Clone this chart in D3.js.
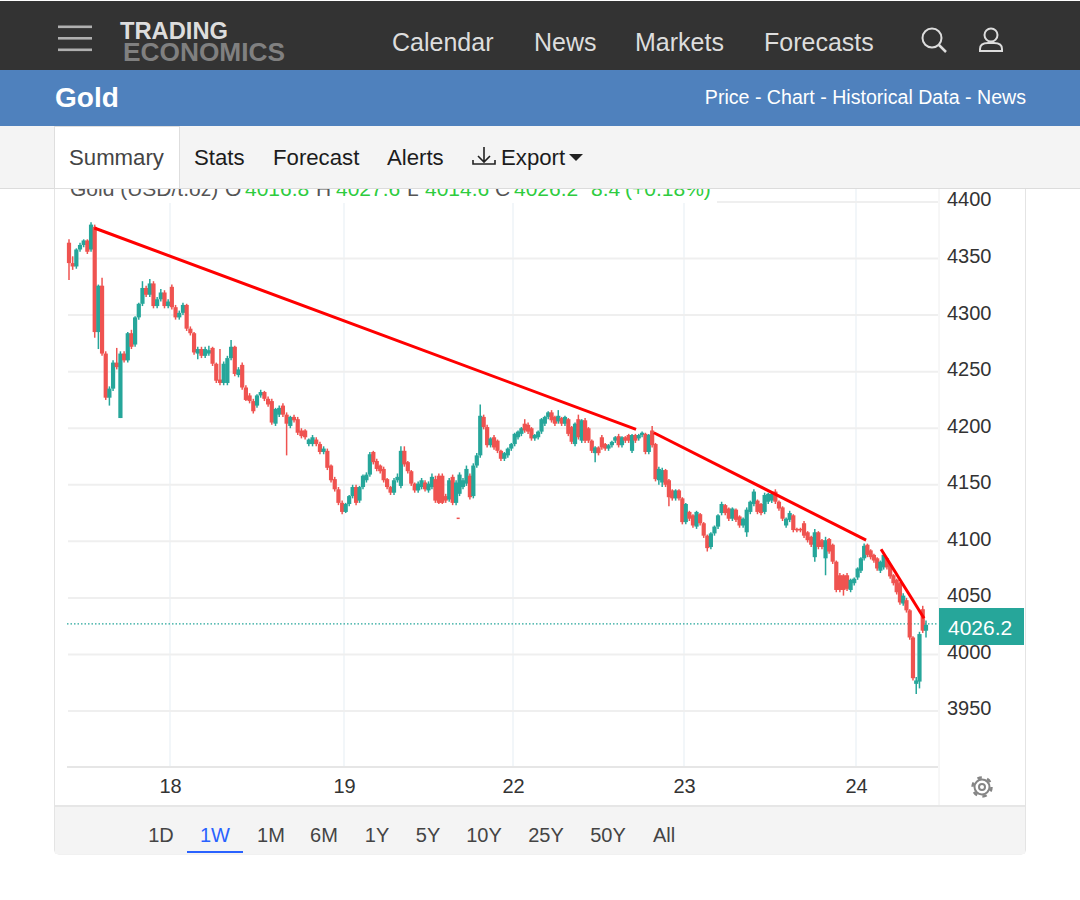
<!DOCTYPE html>
<html>
<meta charset="utf-8">
<script src="https://d3js.org/d3.v7.min.js"></script>
<style>
  html, body { margin: 0; padding: 0; background: #fff; }
  svg { display: block; }
  text { font-family: "Liberation Sans", Arial, sans-serif; }
  .grid line { stroke: #efefef; stroke-width: 2px; }
  .vgrid line { stroke: #eef3f7; stroke-width: 1.5px; }
  .axis path, .axis line { display: none; }
  .axis text { font-size: 20px; fill: #333; font-family: "Liberation Sans", Arial, sans-serif; }
  .nav { font-size: 25px; fill: #ddd; }
  .tab { font-size: 22.2px; fill: #1c1c1c; }
  .range { font-size: 20px; fill: #444; text-anchor: middle; }
</style>
<body>
<script>
var opens = [
  4364,4346,4343,4358,4362,4366,4358,4378,4285,4326,
  4266,4227,4235,4258,4209,4266,4260,4284,4274,4298,
  4310,4324,4318,4328,4308,4314,4320,4308,4325,4307,
  4298,4302,4309,4288,4284,4266,4270,4264,4266,4271,
  4257,4243,4240,4240,4262,4272,4247,4256,4236,
  4229,4224,4220,4229,4232,4226,4224,4204,4212,4220,
  4212,4202,4210,4208,4198,4198,4186,4186,4190,4186,
  4179,4180,4167,4155,4146,4134,
  4126,4133,4140,4148,4136,4148,4154,4159,4179,4171,
  4167,4164,4155,4148,4143,4154,4149,4180,4170,4162,
  4151,4145,4148,4152,4145,4148,4155,4158,4158,4140,
  4137,4157,4134,4142,4148,4151,4158,4140,4167,4176,
  4210,4201,
  4185,4192,4189,4180,4173,4176,4182,
  4186,4192,4195,4204,4203,4200,4191,4192,4197,4204,
  4210,4214,4210,4206,4209,4204,4208,4201,4186,4208,
  4189,4207,4200,4189,4178,4183,4192,4186,4182,4185,
  4189,4193,4185,4192,4194,4180,4194,4191,4194,4195,
  4179,4198,4186,4154,4152,4163,4154,4145,4138,4145,
  4138,
  4117,4126,4123,4113,4124,4116,4105,4095,4107,4113,
  4125,4132,4129,4120,4128,4122,4114,4108,4126,4133,
  4136,4133,4126,4135,4136,4144,4135,4130,4114,4119,
  4123,4111,4111,4116,4108,4104,4086,4108,4101,4085,
  4102,4097,4082,4070,4070,4070,4057,4063,
  4068,4074,4085,4097,4092,4088,4085,4074,4077,4085,
  4079,4070,4066,4063,4045,4048,4039,4015,3974,3976,
  4040,4021
];
var closes = [
  4346,4343,4358,4362,4366,4356,4380,4285,4326,4266,
  4227,4235,4258,4254,4266,4260,4284,4272,4298,4310,
  4324,4318,4328,4308,4314,4320,4308,4312,4307,4298,
  4302,4309,4288,4284,4267,4270,4264,4270,4269,4257,
  4242,4240,4257,4262,4272,4248,4252,4236,4225,
  4224,4215,4229,4232,4226,4221,4205,4217,4218,4212,
  4204,4210,4207,4196,4193,4192,4190,4192,4186,4179,
  4182,4165,4154,4146,4134,4126,
  4133,4140,4148,4134,4148,4158,4159,4177,4170,4164,
  4162,4154,4148,4143,4154,4157,4180,4168,4162,4151,
  4145,4151,4154,4146,4151,4157,4136,4134,4134,4136,
  4154,4134,4152,4159,4154,4164,4139,4167,4176,4211,
  4201,4185,
  4191,4183,4180,4173,4178,4182,4186,
  4195,4197,4200,4198,4197,4191,4194,4197,4208,4210,
  4214,4207,4204,4211,4204,4210,4195,4188,4204,4192,
  4207,4189,4189,4180,4183,4178,4183,4182,4185,4188,
  4192,4185,4192,4189,4189,4194,4189,4194,4196,4179,
  4194,4185,4155,4164,4163,4150,4139,4138,4145,4138,
  4117,
  4133,4120,4114,4126,4116,4105,4094,4107,4113,4123,
  4133,4125,4120,4129,4119,4114,4120,4128,4135,4144,
  4126,4125,4141,4142,4142,4135,4129,4120,4120,4125,
  4110,4110,4110,4105,4101,4097,4108,4095,4095,4101,
  4091,4082,4057,4057,4057,4058,4066,4067,
  4076,4085,4096,4088,4086,4083,4076,4082,4088,4077,
  4069,4063,4055,4046,4052,4039,4015,3979,3977,4018,
  4021,4026.2
];
var highs = [
  4367,4352,4359,4364,4367,4367,4382,4380,4327,4333,
  4268,4237,4260,4271,4268,4268,4285,4287,4299,4311,
  4330,4326,4332,4330,4316,4323,4322,4314,4327,4309,
  4304,4311,4310,4290,4285,4272,4272,4272,4273,4272,
  4258,4270,4259,4264,4278,4273,4254,4258,4238,
  4231,4226,4230,4234,4233,4228,4226,4218,4220,4222,
  4214,4211,4212,4210,4200,4199,4191,4194,4192,4188,
  4184,4182,4168,4157,4148,4136,
  4134,4141,4150,4150,4149,4159,4161,4179,4180,4173,
  4168,4166,4156,4149,4156,4160,4184,4184,4171,4163,
  4152,4153,4156,4154,4153,4160,4158,4160,4160,4142,
  4156,4159,4154,4161,4156,4167,4160,4169,4178,4221,
  4212,4203,
  4192,4194,4190,4181,4179,4183,4187,
  4196,4198,4201,4208,4205,4201,4195,4198,4209,4211,
  4215,4216,4211,4216,4210,4211,4209,4202,4205,4212,
  4208,4209,4201,4190,4184,4184,4194,4187,4186,4189,
  4193,4195,4193,4193,4195,4195,4195,4195,4197,4196,
  4195,4202,4187,4166,4165,4164,4155,4146,4146,4146,
  4139,
  4134,4127,4124,4127,4125,4117,4106,4108,4114,4124,
  4135,4133,4130,4130,4129,4123,4121,4130,4136,4146,
  4137,4134,4143,4143,4143,4146,4136,4131,4121,4127,
  4124,4112,4112,4118,4109,4105,4111,4109,4102,4104,
  4103,4098,4083,4072,4071,4072,4067,4068,
  4077,4086,4098,4098,4093,4089,4086,4083,4090,4086,
  4080,4071,4067,4064,4054,4050,4040,4016,3980,4020,
  4043,4030
];
var lows = [
  4331,4340,4341,4356,4360,4354,4356,4280,4270,4264,
  4225,4220,4233,4252,4209,4258,4258,4270,4272,4296,
  4308,4316,4316,4306,4306,4312,4306,4306,4305,4296,
  4296,4300,4286,4282,4265,4261,4262,4262,4264,4255,
  4240,4238,4238,4238,4260,4246,4245,4234,4224,
  4222,4213,4218,4227,4224,4219,4203,4202,4210,4210,
  4176,4200,4205,4194,4191,4190,4184,4184,4184,4177,
  4177,4163,4152,4144,4132,4124,
  4125,4131,4138,4132,4134,4146,4152,4157,4168,4162,
  4160,4152,4146,4141,4141,4152,4147,4166,4160,4149,
  4143,4143,4146,4144,4143,4146,4134,4133,4133,4134,
  4135,4132,4132,4140,4146,4149,4137,4138,4165,4174,
  4199,4183,
  4183,4181,4178,4171,4171,4174,4180,
  4184,4190,4193,4196,4195,4189,4189,4190,4195,4202,
  4208,4205,4202,4204,4202,4202,4193,4186,4184,4190,
  4187,4187,4187,4178,4170,4176,4181,4180,4180,4183,
  4187,4183,4183,4187,4187,4178,4187,4189,4192,4177,
  4177,4183,4153,4150,4148,4148,4131,4136,4136,4136,
  4115,
  4115,4118,4112,4111,4114,4103,4091,4093,4105,4111,
  4123,4123,4118,4118,4117,4112,4112,4104,4124,4131,
  4124,4123,4124,4133,4134,4133,4127,4118,4112,4117,
  4108,4108,4108,4103,4099,4095,4082,4093,4093,4070,
  4089,4080,4055,4055,4052,4056,4055,4061,
  4066,4072,4083,4086,4084,4081,4074,4072,4075,4075,
  4067,4061,4053,4044,4043,4037,4013,3977,3965,3970,
  4019,4015
];

var yTicks = [4400,4350,4300,4250,4200,4150,4100,4050,4000,3950];
var dayLabels = ['18','19','22','23','24'];
var dayIndex = [27.5,74.5,123.5,174.5,222.5];
var lastPrice = 4026.2;
var strayPrint = [{i: 107.6, price: 4121}];

// hand drawn trend lines, candle index and price at each end
var trendLines = [
  [{i: 6.9, p: 4377}, {i: 160.2, p: 4199}],
  [{i: 165.5, p: 4196}, {i: 225.6, p: 4101}],
  [{i: 230.2, p: 4093}, {i: 243.4, p: 4032}]
];

var quoteParts = ['Gold (USD/t.oz)','O','4016.8','H','4027.6','L','4014.6','C','4026.2','8.4','(+0.18%)'];
var quoteColors = ['#555','#555','#2ecc40','#555','#2ecc40','#555','#2ecc40','#555','#2ecc40','#2ecc40','#2ecc40'];
var quoteX = [70,225,245,316,336,407,425,495,514,591,625];

var navItems = ['Calendar','News','Markets','Forecasts'];
var navX = [392,534,635,764];
var tabItems = ['Stats','Forecast','Alerts','Export'];
var tabX = [194,273,387,501];
var ranges = ['1D','1W','1M','6M','1Y','5Y','10Y','25Y','50Y','All'];
var rangeX = [161,215,271,324,377,428,484,546,608,664];

var up = '#26a69a', down = '#ef5350';

var svg = d3.select('body').append('svg')
  .attr('width',1080)
  .attr('height',900);

var x = d3.scaleLinear()
  .domain([0].concat(dayIndex, [opens.length - 1]))
  .range([69,170,344,513,684,856,926]);

var y = d3.scaleLinear()
  .domain([3950,4400])
  .range([711,202]);

// panel frame
svg.append('rect').attr('x',54.5).attr('y',126).attr('width',971).attr('height',728)
  .attr('rx',4).attr('fill','#fff').attr('stroke','#e4e4e4');

svg.append('g').attr('class','vgrid').selectAll('line').data(dayIndex).enter().append('line')
  .attr('x1',function(d){return x(d);})
  .attr('x2',function(d){return x(d);})
  .attr('y1',188).attr('y2',767);

svg.append('g').attr('class','grid').selectAll('line').data(yTicks).enter().append('line')
  .attr('x1',68).attr('x2',938)
  .attr('y1',function(d){return y(d);})
  .attr('y2',function(d){return y(d);});

svg.append('line').attr('x1',67).attr('x2',938).attr('y1',767).attr('y2',767)
  .attr('stroke','#e6e6e6').attr('stroke-width',2);
svg.append('line').attr('x1',939).attr('x2',939).attr('y1',188).attr('y2',806)
  .attr('stroke','#eeeeee');
svg.append('line').attr('x1',55).attr('x2',1025).attr('y1',806).attr('y2',806)
  .attr('stroke','#e6e6e6').attr('stroke-width',2);

// last price line
svg.append('line').attr('x1',67).attr('x2',938)
  .attr('y1',y(lastPrice) - 1).attr('y2',y(lastPrice) - 1)
  .attr('stroke',up).attr('stroke-width',1.2).attr('stroke-dasharray','1.5 2');

// candles
var idx = d3.range(opens.length);
var candles = svg.append('g');
candles.selectAll('line').data(idx).enter().append('line')
  .attr('x1',function(i){return x(i);})
  .attr('x2',function(i){return x(i);})
  .attr('y1',function(i){return y(highs[i]);})
  .attr('y2',function(i){return y(lows[i]);})
  .attr('stroke',function(i){return closes[i] >= opens[i] ? up : down;})
  .attr('stroke-width',1.5);
candles.selectAll('rect').data(idx).enter().append('rect')
  .attr('x',function(i){return x(i) - 2.1;})
  .attr('width',4.2)
  .attr('y',function(i){return y(Math.max(opens[i],closes[i]));})
  .attr('height',function(i){return Math.max(1.5,Math.abs(y(opens[i]) - y(closes[i])));})
  .attr('fill',function(i){return closes[i] >= opens[i] ? up : down;});

svg.selectAll('rect.stray').data(strayPrint).enter().append('rect')
  .attr('class','stray')
  .attr('x',function(d){return x(d.i) - 1.5;})
  .attr('y',function(d){return y(d.price);})
  .attr('width',3).attr('height',1.5)
  .attr('fill',down);

var trend = d3.line().x(function(d){return x(d.i);}).y(function(d){return y(d.p);});
svg.selectAll('path.trend').data(trendLines).enter().append('path')
  .attr('class','trend')
  .attr('d',trend)
  .attr('fill','none')
  .attr('stroke','#ff0000')
  .attr('stroke-width',3);

// axes
var yAxis = d3.axisRight(y).tickValues(yTicks).tickSize(0).tickPadding(8).tickFormat(d3.format('d'));
svg.append('g').attr('class','axis').attr('transform','translate(939,-2.5)').call(yAxis);

var xAxis = d3.axisBottom(x).tickValues(dayIndex).tickSize(0).tickPadding(0)
  .tickFormat(function(d,i){return dayLabels[i];});
svg.append('g').attr('class','axis').attr('transform','translate(0,779)').call(xAxis);

// price tag
svg.append('rect').attr('x',939).attr('y',608).attr('width',85).attr('height',37).attr('fill',up);
svg.append('text').attr('x',948).attr('y',634.5).attr('font-size',21).attr('fill','#fff').text(d3.format('.1f')(lastPrice));

// settings gear
var gear = svg.append('g').attr('transform','translate(982,787)').attr('fill','none').attr('stroke','#858585');
gear.append('circle').attr('r',7.5).attr('stroke-width',2);
gear.append('circle').attr('r',9.5).attr('stroke-width',2.5).attr('stroke-dasharray','4.5 5.45');
gear.append('circle').attr('r',3).attr('stroke-width',2);

// range selector
svg.append('rect').attr('x',55).attr('y',807).attr('width',970).attr('height',47).attr('fill','#f4f4f4');
svg.selectAll('text.range').data(ranges).enter().append('text')
  .attr('class','range')
  .attr('x',function(d,i){return rangeX[i];})
  .attr('y',842)
  .style('fill',function(d){return d == '1W' ? '#2962ff' : null;})
  .text(function(d){return d;});
svg.append('rect').attr('x',187).attr('y',851).attr('width',56).attr('height',2).attr('fill','#2962ff');

// quote line sits half under the tab strip
svg.append('rect').attr('x',55).attr('y',188).attr('width',662).attr('height',15).attr('fill','#fff');
svg.selectAll('text.quote').data(quoteParts).enter().append('text')
  .attr('class','quote')
  .attr('x',function(d,i){return quoteX[i];})
  .attr('y',195.5)
  .attr('font-size',21)
  .attr('fill',function(d,i){return quoteColors[i];})
  .text(function(d){return d;});

// page header
svg.append('rect').attr('x',0).attr('y',1).attr('width',1080).attr('height',69).attr('fill','#333333');
svg.append('rect').attr('x',0).attr('y',70).attr('width',1080).attr('height',56).attr('fill','#4f81bd');
svg.append('rect').attr('x',0).attr('y',126).attr('width',1080).attr('height',62).attr('fill','#f4f4f4');
svg.append('line').attr('x1',0).attr('x2',1080).attr('y1',188.5).attr('y2',188.5).attr('stroke','#dcdcdc');
svg.append('rect').attr('x',54.5).attr('y',126.5).attr('width',125).attr('height',62)
  .attr('fill','#fff').attr('stroke','#dedede');

svg.selectAll('rect.burger').data([25.5,37,48.5]).enter().append('rect')
  .attr('class','burger')
  .attr('x',58).attr('y',function(d){return d;})
  .attr('width',34).attr('height',2.6)
  .attr('fill','#b0b0b0');

svg.append('text').attr('x',120).attr('y',38.5).attr('font-size',23.5).attr('font-weight','bold')
  .attr('fill','#dddddd').attr('textLength',108).attr('lengthAdjust','spacingAndGlyphs').text('TRADING');
svg.append('text').attr('x',123).attr('y',60.5).attr('font-size',25).attr('font-weight','bold')
  .attr('fill','#808080').attr('textLength',162).attr('lengthAdjust','spacingAndGlyphs').text('ECONOMICS');

svg.selectAll('text.nav').data(navItems).enter().append('text')
  .attr('class','nav')
  .attr('x',function(d,i){return navX[i];})
  .attr('y',51)
  .text(function(d){return d;});

var icons = svg.append('g').attr('fill','none').attr('stroke','#dddddd').attr('stroke-width',2);
icons.append('circle').attr('cx',932).attr('cy',38).attr('r',9.5);
icons.append('line').attr('x1',939).attr('y1',45).attr('x2',946).attr('y2',52).attr('stroke-width',2.5);
icons.append('circle').attr('cx',991).attr('cy',35).attr('r',6.5);
icons.append('path').attr('d','M980 51 v-2 q0 -6 8 -6 h6 q8 0 8 6 v2 z');

svg.append('text').attr('x',55).attr('y',107).attr('font-size',28).attr('font-weight','bold')
  .attr('fill','#fff').text('Gold');
svg.append('text').attr('x',1026).attr('y',104).attr('font-size',19.6).attr('text-anchor','end')
  .attr('fill','#fff').text('Price - Chart - Historical Data - News');

svg.append('text').attr('class','tab').attr('x',69).attr('y',165).style('fill','#444').text('Summary');
svg.selectAll('text.tabitem').data(tabItems).enter().append('text')
  .attr('class','tab tabitem')
  .attr('x',function(d,i){return tabX[i];})
  .attr('y',165)
  .text(function(d){return d;});

var exp = svg.append('g').attr('fill','none').attr('stroke','#222').attr('stroke-width',1.6);
exp.append('path').attr('d','M484 147 v15 M478 156 l6 6 l6 -6');
exp.append('path').attr('d','M473 160 v4 h22 v-4');
svg.append('path').attr('d','M569 154 h14 l-7 7 z').attr('fill','#222');
</script>
</body>
</html>
